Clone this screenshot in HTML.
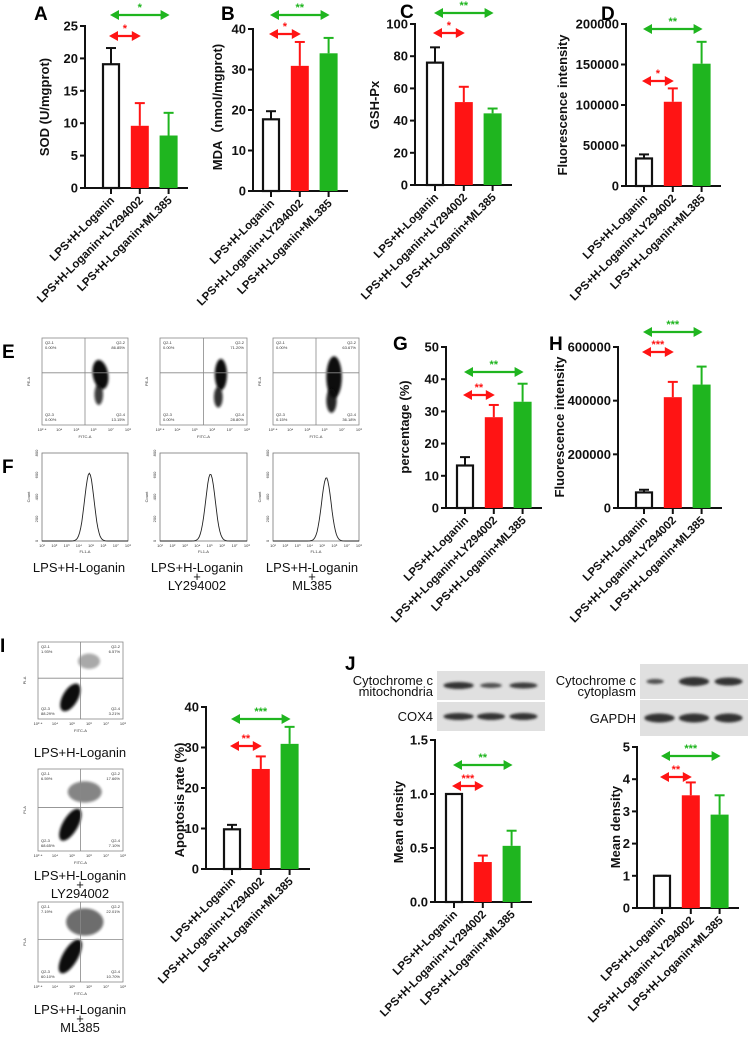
<!DOCTYPE html>
<html><head><meta charset="utf-8"><style>
html,body{margin:0;padding:0;background:#fff;}
svg{display:block;font-family:"Liberation Sans",Arial,sans-serif;}
.tk{font-size:13px;font-weight:bold;fill:#111;}
.xl{font-size:11.5px;font-weight:bold;fill:#111;}
.yt{font-size:13px;font-weight:bold;fill:#111;}
.pl{font-size:19px;font-weight:bold;fill:#000;}
.sm{font-size:4px;fill:#333;}
.lab{font-size:13px;fill:#111;}
</style></head><body>
<svg id="fig" width="750" height="1037" viewBox="0 0 750 1037" xmlns="http://www.w3.org/2000/svg">
<defs>
<filter id="blur2" x="-50%" y="-50%" width="200%" height="200%"><feGaussianBlur stdDeviation="1.2"/></filter>
</defs>
<text class="pl" x="34" y="20">A</text>
<text class="pl" x="221" y="20">B</text>
<text class="pl" x="400" y="18">C</text>
<text class="pl" x="601" y="20">D</text>
<text class="pl" x="2" y="358">E</text>
<text class="pl" x="2" y="473">F</text>
<text class="pl" x="393" y="350">G</text>
<text class="pl" x="549" y="350">H</text>
<text class="pl" x="0" y="652">I</text>
<text class="pl" x="345" y="670">J</text>
<g id="charts"></g>
<g id="flow"></g>
</svg>
<script>
const groups=["LPS+H-Loganin","LPS+H-Loganin+LY294002","LPS+H-Loganin+ML385"];
const aVals=[19.1,9.6,8.1];
const aErr=[21.6,13.1,11.6];
const aTicks=[0,5,10,15,20,25];
const bVals=[17.7,30.9,34.0];
const bErr=[19.7,36.8,37.8];
const bTicks=[0,10,20,30,40];
const cVals=[76,51.5,44.5];
const cErr=[85.5,61,47.5];
const cTicks=[0,20,40,60,80,100];
const dVals=[34000,104000,151000];
const dErr=[39000,120500,178000];
const dTicks=[0,50000,100000,150000,200000];
const gVals=[13.2,28.2,33.0];
const gErr=[15.8,32.0,38.6];
const gTicks=[0,10,20,30,40,50];
const hVals=[58000,413000,460000];
const hErr=[68000,470000,527000];
const hTicks=[0,200000,400000,600000];
const iVals=[9.8,24.7,30.9];
const iErr=[10.9,27.8,35.1];
const iTicks=[0,10,20,30,40];
const j1Vals=[1.0,0.37,0.52];
const j1Err=[1.0,0.43,0.66];
const j1Ticks=["0.0","0.5","1.0","1.5"];
const j2Vals=[1,3.5,2.9];
const j2Err=[1,3.9,3.5];
const j2Ticks=[0,1,2,3,4,5];
const aSig=["*","*"],bSig=["*","**"],cSig=["*","**"],dSig=["*","**"],gSig=["**","**"],hSig=["***","***"],iSig=["**","***"],j1Sig=["***","**"],j2Sig=["**","***"];

const NS="http://www.w3.org/2000/svg";
const RED="#ff1414",GREEN="#1fb51f";
const fill=["#fff",RED,GREEN];
function mk(parent,tag,attrs){const e=document.createElementNS(NS,tag);for(const k in attrs)e.setAttribute(k,attrs[k]);parent.appendChild(e);return e;}

function arrow(g,x1,x2,y,col,label,name){
  const a=mk(g,"g",{});
  
  
  mk(a,"line",{x1:x1+6,x2:x2-6,y1:y,y2:y,stroke:col,"stroke-width":2.2});
  mk(a,"polygon",{points:`${x1},${y} ${x1+9},${y-5} ${x1+9},${y+5}`,fill:col});
  mk(a,"polygon",{points:`${x2},${y} ${x2-9},${y-5} ${x2-9},${y+5}`,fill:col});
  const t=mk(a,"text",{x:(x1+x2)/2,y:y-4,"text-anchor":"middle","font-size":"11","font-weight":"bold",fill:col});
  t.textContent=label;
}

function chart(L,vals,errs,ticks,sig){
  const root=document.getElementById("charts");
  const g=mk(root,"g",{});
  
  
  const maxV=+ticks[ticks.length-1];
  const ys=v=>L.y0-(v/maxV)*(L.y0-L.yTop);
  const xs=i=>L.x0+L.off+i*28.8;
  const ya=mk(g,"line",{x1:L.x0,x2:L.x0,y1:L.y0+1,y2:L.yTop-1,stroke:"#111","stroke-width":2});
  
  
  const xa=mk(g,"line",{x1:L.x0-1,x2:L.xEnd,y1:L.y0,y2:L.y0,stroke:"#111","stroke-width":2});
  
  
  ticks.forEach(t=>{
    const y=ys(+t);
    mk(g,"line",{x1:L.x0-5,x2:L.x0,y1:y,y2:y,stroke:"#111","stroke-width":2});
    const tx=mk(g,"text",{x:L.x0-7,y:y+4.5,"text-anchor":"end",class:"tk"});
    if(String(t).length>=6) tx.setAttribute("font-size","12");
    tx.textContent=t;
    
    
  });
  vals.forEach((v,i)=>{
    const cx=xs(i),w=18;
    const col=i==0?"#111":fill[i];
    mk(g,"line",{x1:cx,x2:cx,y1:ys(v),y2:ys(errs[i]),stroke:col,"stroke-width":2});
    mk(g,"line",{x1:cx-5,x2:cx+5,y1:ys(errs[i]),y2:ys(errs[i]),stroke:col,"stroke-width":2});
    let r;
    if(i==0) r=mk(g,"rect",{x:cx-w/2+1,y:ys(v),width:w-2,height:L.y0-ys(v),fill:"#fff",stroke:"#111","stroke-width":2.2});
    else r=mk(g,"rect",{x:cx-w/2,y:ys(v),width:w,height:L.y0-ys(v),fill:fill[i]});
    
    
    mk(g,"line",{x1:cx,x2:cx,y1:L.y0,y2:L.y0+6,stroke:"#111","stroke-width":2});
    const xl=mk(g,"text",{x:cx+4,y:L.y0+13,"text-anchor":"end",class:"xl",transform:`rotate(-45 ${cx+4} ${L.y0+13})`});
    xl.textContent=groups[i];
    
    
  });
  const yt=mk(g,"text",{x:L.tx,y:L.ty,"text-anchor":"middle",class:"yt",transform:`rotate(-90 ${L.tx} ${L.ty})`});
  yt.textContent=L.title;
  
  
  arrow(g,xs(0)-2,xs(1)+1,L.ry,RED,sig[0],"significance-red");
  arrow(g,xs(0)-1,xs(2)+1,L.gy,GREEN,sig[1],"significance-green");
}

chart({name:"chart-a-sod",x0:85,xEnd:188,y0:188,yTop:26,off:26,title:"SOD (U/mgprot)",tx:49,ty:107,ry:36,gy:15},aVals,aErr,aTicks,aSig);
chart({name:"chart-b-mda",x0:253,xEnd:348,y0:191,yTop:29,off:18,title:"MDA\uFF08nmol/mgprot)",tx:222,ty:107,ry:34,gy:15},bVals,bErr,bTicks,bSig);
chart({name:"chart-c-gsh",x0:415,xEnd:512,y0:185,yTop:24,off:20,title:"GSH-Px",tx:379,ty:105,ry:33,gy:13},cVals,cErr,cTicks,cSig);
chart({name:"chart-d-fluorescence",x0:626,xEnd:721,y0:186,yTop:24,off:18,title:"Fluorescence intensity",tx:567,ty:105,ry:81,gy:29},dVals,dErr,dTicks,dSig);
chart({name:"chart-g-percentage",x0:446,xEnd:542,y0:508,yTop:347,off:19,title:"percentage (%)",tx:409,ty:427,ry:395,gy:372},gVals,gErr,gTicks,gSig);
chart({name:"chart-h-fluorescence",x0:618,xEnd:722,y0:508,yTop:347,off:26,title:"Fluorescence intensity",tx:564,ty:427,ry:352,gy:332},hVals,hErr,hTicks,hSig);
chart({name:"chart-i-apoptosis",x0:206,xEnd:310,y0:869,yTop:707,off:26,title:"Apoptosis rate (%)",tx:184,ty:800,ry:746,gy:719},iVals,iErr,iTicks,iSig);
chart({name:"chart-j-mito",x0:435,xEnd:532,y0:902,yTop:740,off:19,title:"Mean density",tx:403,ty:822,ry:786,gy:765},j1Vals,j1Err,j1Ticks,j1Sig);
chart({name:"chart-j-cyto",x0:637,xEnd:739,y0:908,yTop:747,off:25,title:"Mean density",tx:620,ty:827,ry:777,gy:756},j2Vals,j2Err,j2Ticks,j2Sig);

const flow=document.getElementById("flow");
function dotplot(x,y,w,h,qx,qy,blobs,quad,name,axes){
  const g=mk(flow,"g",{});
  
  
  mk(g,"rect",{x:x,y:y,width:w,height:h,fill:"#fff",stroke:"#888","stroke-width":0.8});
  blobs.forEach(b=>{
    mk(g,"ellipse",{cx:x+b[0]*w,cy:y+b[1]*h,rx:b[2]*w,ry:b[3]*h,fill:"#111",opacity:b[4],filter:"url(#blur2)",transform:`rotate(${b[5]} ${x+b[0]*w} ${y+b[1]*h})`});
  });
  mk(g,"line",{x1:x+qx*w,x2:x+qx*w,y1:y,y2:y+h,stroke:"#888","stroke-width":0.8});
  mk(g,"line",{x1:x,x2:x+w,y1:y+qy*h,y2:y+qy*h,stroke:"#888","stroke-width":0.8});
  const q=[["Q2-1",quad[0],x+3,y+6,"start"],["Q2-2",quad[1],x+w-3,y+6,"end"],["Q2-3",quad[2],x+3,y+h-9,"start"],["Q2-4",quad[3],x+w-3,y+h-9,"end"]];
  q.forEach(s=>{const t=mk(g,"text",{x:s[2],y:s[3],"text-anchor":s[4],class:"sm"});t.textContent=s[0];const t2=mk(g,"text",{x:s[2],y:s[3]+5,"text-anchor":s[4],class:"sm"});t2.textContent=s[1];});
  const xl=mk(g,"text",{x:x+w/2,y:y+h+13,"text-anchor":"middle",class:"sm"});xl.textContent=axes[0];
  const yl=mk(g,"text",{x:x-12,y:y+h/2,"text-anchor":"middle",class:"sm",transform:`rotate(-90 ${x-12} ${y+h/2})`});yl.textContent=axes[1];
  ["10\u00B2\u00B7\u2074","10\u2074","10\u2075","10\u2076","10\u2077","10\u2078"].forEach((s,i)=>{const t=mk(g,"text",{x:x+i*w/5,y:y+h+6,"text-anchor":"middle",class:"sm"});t.textContent=s;});
}
function hist(x,y,w,h,peak,ph,name){
  const g=mk(flow,"g",{});
  
  
  mk(g,"rect",{x:x,y:y,width:w,height:h,fill:"#fff",stroke:"#777","stroke-width":0.8});
  let d="";
  for(let i=0;i<=80;i++){const px=x+i*w/80;const u=(px-(x+peak*w))/(w*0.055);const py=y+h-ph*h*Math.exp(-u*u/2);d+=(i?"L":"M")+px.toFixed(1)+","+py.toFixed(1);}
  mk(g,"path",{d:d,fill:"none",stroke:"#222","stroke-width":0.9});
  ["10\u00B9","10\u00B2","10\u00B3","10\u2074","10\u2075","10\u2076","10\u2077","10\u2078"].forEach((s,i)=>{const t=mk(g,"text",{x:x+i*w/7,y:y+h+6,"text-anchor":"middle",class:"sm"});t.textContent=s;});
  const xl=mk(g,"text",{x:x+w/2,y:y+h+12,"text-anchor":"middle",class:"sm"});xl.textContent="FL1-A";
  const yl=mk(g,"text",{x:x-12,y:y+h/2,"text-anchor":"middle",class:"sm",transform:`rotate(-90 ${x-12} ${y+h/2})`});yl.textContent="Count";
  ["0","200","400","600","800"].forEach((s,i)=>{const t=mk(g,"text",{x:x-4,y:y+h-i*h/4,"text-anchor":"middle",class:"sm",transform:`rotate(-90 ${x-4} ${y+h-i*h/4})`});t.textContent=s;});
}
function label(x,y,lines,name,sz){
  const t=mk(flow,"text",{x:x,y:y,"text-anchor":"middle",class:"lab","font-size":sz||13});
  
  
  lines.forEach((s,i)=>{const ts=mk(t,"tspan",{x:x,dy:i?9:0});ts.textContent=s;});
}
const eBlobs1=[[0.68,0.42,0.09,0.17,1,-10],[0.66,0.65,0.05,0.12,0.8,0]];
const eBlobs2=[[0.70,0.42,0.07,0.18,1,0],[0.67,0.68,0.05,0.12,0.85,0]];
const eBlobs3=[[0.71,0.45,0.09,0.24,1,0],[0.68,0.72,0.06,0.14,0.9,0]];
dotplot(42,338,86,87,0.5,0.4,eBlobs1,["0.00%","86.85%","0.00%","13.15%"],"flow-e-1",["FITC-A","PE-A"]);
dotplot(160,338,87,87,0.5,0.4,eBlobs2,["0.00%","71.20%","0.00%","28.80%"],"flow-e-2",["FITC-A","PE-A"]);
dotplot(273,338,86,87,0.5,0.4,eBlobs3,["0.00%","63.67%","0.15%","36.18%"],"flow-e-3",["FITC-A","PE-A"]);
hist(42,453,86,88,0.55,0.77,"histogram-f-1");
hist(160,453,87,88,0.58,0.76,"histogram-f-2");
hist(273,453,86,88,0.62,0.72,"histogram-f-3");
label(79,572,["LPS+H-Loganin"],"label-f-1",14);
label(197,572,["LPS+H-Loganin","+","LY294002"],"label-f-2",14);
label(312,572,["LPS+H-Loganin","+","ML385"],"label-f-3",14);
const iB1=[[0.38,0.72,0.09,0.2,1,30],[0.6,0.25,0.13,0.1,0.35,0]];
const iB2=[[0.38,0.68,0.09,0.22,1,30],[0.55,0.28,0.2,0.13,0.5,0]];
const iB3=[[0.38,0.68,0.09,0.24,1,30],[0.55,0.25,0.22,0.17,0.6,0]];
dotplot(38,642,85,77,0.5,0.47,iB1,["1.93%","6.57%","88.29%","3.21%"],"flow-i-1",["FITC-A","PI-A"]);
dotplot(38,769,85,82,0.5,0.47,iB2,["6.59%","17.66%","68.65%","7.10%"],"flow-i-2",["FITC-A","PI-A"]);
dotplot(38,902,85,80,0.5,0.47,iB3,["7.19%","22.01%","60.10%","10.70%"],"flow-i-3",["FITC-A","PI-A"]);
label(80,757,["LPS+H-Loganin"],"label-i-1",13);
label(80,880,["LPS+H-Loganin","+","LY294002"],"label-i-2",13);
label(80,1014,["LPS+H-Loganin","+","ML385"],"label-i-3",13);

function blot(x,y,w,h,bands,name){
  const g=mk(flow,"g",{});
  
  
  mk(g,"rect",{x:x,y:y,width:w,height:h,fill:"#e0e0e0"});
  bands.forEach(b=>{mk(g,"ellipse",{cx:x+b[0]*w,cy:y+h/2,rx:b[1]*w,ry:b[2],fill:"#2a2a2a",opacity:b[3],filter:"url(#blur2)"});});
}
blot(437,671,108,29,[[0.2,0.14,3.5,0.95],[0.5,0.1,2.5,0.8],[0.8,0.13,3,0.9]],"blot-cytc-mito");
blot(437,702,108,29,[[0.2,0.14,3.5,0.95],[0.5,0.13,3.5,0.95],[0.8,0.13,3.5,0.95]],"blot-cox4");
blot(640,664,108,35,[[0.14,0.08,2.5,0.8],[0.5,0.14,4.5,0.95],[0.82,0.13,4,0.95]],"blot-cytc-cyto");
blot(640,700,108,36,[[0.18,0.14,4.5,0.95],[0.5,0.14,4.5,0.95],[0.82,0.13,4.5,0.95]],"blot-gapdh");
function rlab(x,y,lines,name){const t=mk(flow,"text",{x:x,y:y,"text-anchor":"end",class:"lab","font-size":12.5});
  
  
  lines.forEach((s,i)=>{const ts=mk(t,"tspan",{x:x,dy:i?11:0});ts.textContent=s;});}
rlab(433,685,["Cytochrome c","mitochondria"],"label-cytc-mito");
rlab(433,721,["COX4"],"label-cox4");
rlab(636,685,["Cytochrome c","cytoplasm"],"label-cytc-cyto");
rlab(636,723,["GAPDH"],"label-gapdh");
</script>
</body></html>
